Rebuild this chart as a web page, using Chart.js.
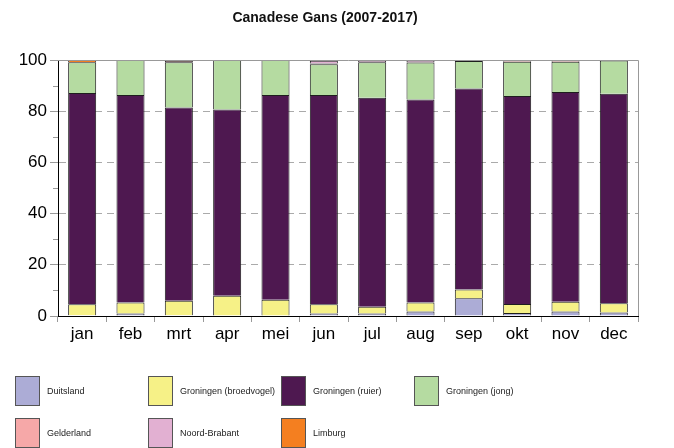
<!DOCTYPE html>
<html>
<head>
<meta charset="utf-8">
<script src="https://cdn.jsdelivr.net/npm/chart.js@4.4.1/dist/chart.umd.min.js"></script>
<style>
  body { margin: 0; background: #fff; font-family: "Liberation Sans", Arial, sans-serif; }
  #wrap { position: relative; width: 674px; height: 448px; }
  #myChart { position: absolute; left: 0; top: 0; }
  #title { position: absolute; left: 0; width: 650px; top: 9px; text-align: center;
           font-weight: bold; font-size: 14px; color: #111; }
  .leg { position: absolute; height: 31px; display: flex; align-items: center; font-size: 9px; color: #222; white-space: nowrap; }
  .leg span.box { width: 25px; height: 30px; border: 1px solid #555; box-sizing: border-box; margin-right: 7px; }
</style>
</head>
<body>
<div id="wrap">
  <canvas id="myChart" width="674" height="448"></canvas>
  <div id="title">Canadese Gans (2007-2017)</div>
</div>
<script>
let months = ["jan", "feb", "mrt", "apr", "mei", "jun", "jul", "aug", "sep", "okt", "nov", "dec"];
let yTicks = [0, 20, 40, 60, 80, 100];

let DUITSLAND  = [0.3, 1.0, 0.3, 0.0, 0.2, 1.0, 1.0, 1.8, 6.9, 1.2, 1.8, 1.4];
let BROEDVOGEL = [4.3, 4.3, 5.7, 7.9, 6.1, 3.6, 2.6, 3.5, 3.5, 3.5, 3.8, 3.6];
let RUIER      = [82.5, 81.0, 75.4, 72.8, 80.0, 81.7, 81.7, 79.3, 78.5, 81.2, 81.9, 81.8];
let JONG       = [12.0, 13.7, 17.7, 19.3, 13.7, 12.0, 13.8, 14.4, 10.7, 13.4, 11.8, 13.0];
let GELDERLAND = [0, 0, 0.5, 0, 0, 0.3, 0, 0.2, 0.2, 0.4, 0.4, 0.1];
let NBRABANT   = [0, 0, 0.2, 0, 0, 1.1, 0.6, 0.5, 0.1, 0.2, 0.2, 0];
let LIMBURG    = [0.9, 0, 0.2, 0, 0, 0.3, 0.3, 0.3, 0.1, 0.1, 0.1, 0.1];

let series = [
  { label: "Duitsland", data: DUITSLAND, color: "#acacd6" },
  { label: "Groningen (broedvogel)", data: BROEDVOGEL, color: "#f6f187" },
  { label: "Groningen (ruier)", data: RUIER, color: "#4e1850" },
  { label: "Groningen (jong)", data: JONG, color: "#b5dba1" },
  { label: "Gelderland", data: GELDERLAND, color: "#f6a8a8" },
  { label: "Noord-Brabant", data: NBRABANT, color: "#e2b0d2" },
  { label: "Limburg", data: LIMBURG, color: "#f47f20" }
];

// legend spots (4 per row)
let legCols = [15, 148, 281, 414];
let legRows = [375, 417];

document.addEventListener("DOMContentLoaded", function() {

  let wrap = document.getElementById("wrap");
  series.forEach(function(s, i) {
    let d = document.createElement("div");
    d.className = "leg";
    d.style.left = legCols[i % 4] + "px";
    d.style.top = legRows[Math.floor(i / 4)] + "px";
    d.innerHTML = '<span class="box" style="background:' + s.color + '"></span>' + s.label;
    wrap.appendChild(d);
  });

  // frame on top/right + minor y ticks
  let framePlugin = {
    id: "frame",
    afterDraw: function(chart) {
      let ctx = chart.ctx;
      let a = chart.chartArea;
      let y = chart.scales.y;
      ctx.save();
      ctx.strokeStyle = "#999";
      ctx.lineWidth = 1;
      ctx.beginPath();
      ctx.moveTo(a.left, a.top + 0.5);
      ctx.lineTo(a.right + 0.5, a.top + 0.5);
      ctx.lineTo(a.right + 0.5, a.bottom);
      ctx.stroke();
      ctx.beginPath();
      for (let v = 10; v < 100; v += 20) {
        let py = Math.round(y.getPixelForValue(v)) + 0.5;
        ctx.moveTo(a.left - 5, py);
        ctx.lineTo(a.left, py);
      }
      ctx.stroke();
      ctx.restore();
    }
  };

  var ctx = document.getElementById("myChart").getContext("2d");
  var myChart = new Chart(ctx, {
    type: 'bar',
    data: {
      labels: months,
      datasets: series.map(function(s) {
        return {
          label: s.label,
          data: s.data,
          backgroundColor: s.color,
          borderColor: "#1e1e1e",
          borderWidth: 1,
          barPercentage: 0.58,
          categoryPercentage: 1.0
        };
      })
    },
    options: {
      responsive: false,
      animation: false,
      layout: { padding: { top: 60, right: 36, left: 0, bottom: 102 } },
      plugins: {
        legend: { display: false },
        title: { display: false },
        tooltip: { enabled: false }
      },
      scales: {
        x: {
          stacked: true,
          afterFit: function(scale) { scale.height = 30; },
          grid: {
            offset: true,
            drawOnChartArea: false,
            tickLength: 6,
            tickColor: "#999"
          },
          border: { display: true, color: "#000", width: 1 },
          ticks: { color: "#000", padding: 2, font: { family: "Liberation Sans", size: 17 } }
        },
        y: {
          stacked: true,
          min: 0,
          max: 100,
          afterFit: function(scale) { scale.width = 58; },
          afterBuildTicks: function(scale) {
            scale.ticks = yTicks.map(function(v) { return { value: v }; });
          },
          grid: {
            color: function(c) {
              let v = c.tick ? c.tick.value : 0;
              return (v === 0 || v === 100) ? "rgba(0,0,0,0)" : "#aaa";
            },
            tickColor: "#999",
            tickLength: 8
          },
          border: { display: true, color: "#000", width: 1, dash: [7, 5] },
          ticks: { color: "#000", padding: 3, font: { family: "Liberation Sans", size: 17 } }
        }
      }
    },
    plugins: [framePlugin]
  });
});
</script>
</body>
</html>
